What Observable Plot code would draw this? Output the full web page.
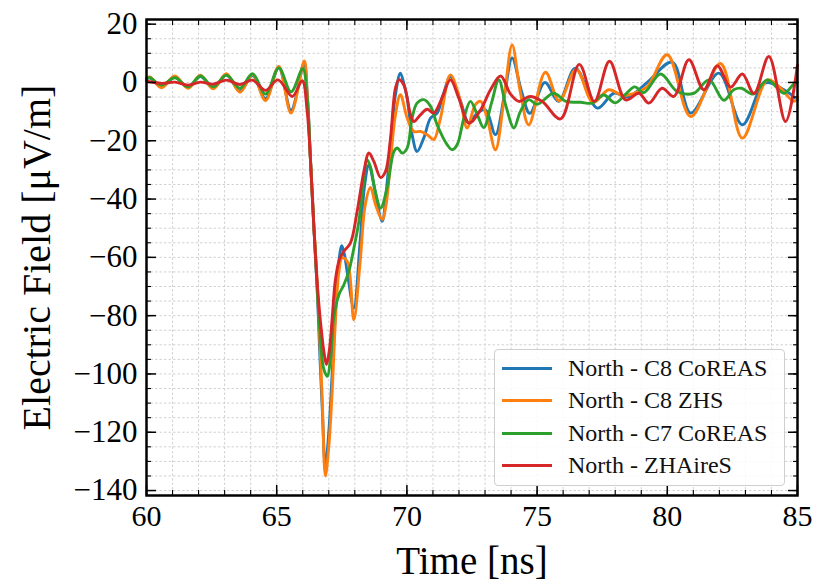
<!DOCTYPE html>
<html>
<head>
<meta charset="utf-8">
<script src="https://cdn.jsdelivr.net/npm/d3@7"></script>
<script src="https://cdn.jsdelivr.net/npm/@observablehq/plot@0.6"></script>
<style>
  body { margin: 0; background: #fff; }
  #wrap { position: relative; width: 816px; height: 586px; font-family: "Liberation Serif", serif; }
  #legend { position: absolute; left: 494px; top: 349px; width: 291px; height: 137px;
    border: 1.5px solid #cfcfcf; border-radius: 4px; background: rgba(255,255,255,0.85); box-sizing: border-box; }
  .row { position: absolute; left: 0; height: 32px; display: flex; align-items: center; }
  .swatch { width: 50px; height: 0; border-top: 3px solid; margin-left: 7px; margin-right: 16px; }
  .lab { font-size: 24px; color: #111; white-space: nowrap; }
</style>
</head>
<body>
<div id="wrap"></div>
<script>
// ---- Data ----
const seriesNames = ["North - C8 CoREAS", "North - C8 ZHS", "North - C7 CoREAS", "North - ZHAireS"];
const seriesColors = ["#1f77b4", "#ff7f0e", "#2ca02c", "#d62728"];

const c8CoreasT = [60.0, 60.13, 60.58, 61.09, 61.6, 62.07, 62.56, 63.07, 63.59, 64.07, 64.57, 65.08, 65.55, 66.05, 66.17, 66.3, 66.43, 66.55, 66.65, 66.75, 66.87, 67.0, 67.13, 67.26, 67.38, 67.5, 67.6, 67.71, 67.96, 68.2, 68.38, 68.54, 68.75, 69.05, 69.2, 69.37, 69.56, 69.75, 69.9, 70.01, 70.2, 70.39, 70.65, 70.91, 71.16, 71.4, 71.67, 72.06, 72.38, 72.7, 73.02, 73.4, 73.75, 74.04, 74.4, 74.72, 75.3, 75.83, 76.47, 77.31, 77.95, 78.5, 79.23, 80.19, 80.9, 81.98, 82.88, 83.75, 84.48, 85.0];
const c8CoreasE = [1.2, 1.6, -1.5, 1.8, -1.7, 2.0, -1.8, 2.5, -3.0, 2.4, -5.5, 5.0, -9.5, 6.5, -3.5, -27, -50, -70, -92, -112, -132, -120, -100, -78, -62, -56, -59, -65, -77.4, -55, -35, -28.2, -36, -47.6, -38, -21.4, -4.2, 3.2, -1, -5.3, -17.9, -23.7, -19, -12.2, -10.5, -4, 2, -6.5, -13.9, -10.5, -9.4, -17.9, -4, 8.4, -3, -10.6, 0, -6.5, 4.9, -8.8, -3.7, -5, 0, 7, -10.5, 3.2, -14.5, -0.2, -2.5, -6];

const c8ZhsT = [60.0, 60.13, 60.58, 61.09, 61.6, 62.07, 62.56, 63.07, 63.59, 64.07, 64.57, 65.08, 65.55, 66.06, 66.17, 66.3, 66.43, 66.49, 66.62, 66.75, 66.87, 67.0, 67.13, 67.26, 67.39, 67.51, 67.71, 67.96, 68.2, 68.4, 68.6, 68.8, 69.05, 69.2, 69.37, 69.56, 69.75, 70.01, 70.27, 70.52, 70.78, 71.03, 71.29, 71.67, 72.06, 72.31, 72.63, 72.83, 73.08, 73.4, 73.72, 74.04, 74.35, 74.68, 75.32, 75.85, 76.5, 77.15, 77.75, 78.3, 78.72, 79.23, 80.0, 80.9, 82.04, 82.88, 83.84, 84.3, 84.86, 85.0];
const c8ZhsE = [1.5, 1.9, -1.8, 2.2, -2.0, 2.5, -2.2, 3.0, -3.4, 2.7, -6.2, 5.5, -10.5, 7.4, -4.2, -27.1, -49.9, -58, -80.8, -109.3, -135, -125, -105.9, -80.8, -64.8, -60.2, -61.4, -81.4, -62, -42, -36, -42, -47, -42, -27.1, -11.1, -4.2, -12.2, -16.8, -16.8, -17.9, -19.6, -12.2, 2.6, -6.5, -15.6, -7.6, -6.5, -12.2, -23.1, -6.5, 12.9, -3, -14.5, 3.5, -6.3, 4.5, -6.8, -2.5, -4.5, -3.7, -1.4, 9.5, -11.7, 6.5, -19.1, 0.9, -1.5, -6.5, -5];

const c7CoreasT = [60.0, 60.13, 60.58, 61.09, 61.6, 62.07, 62.56, 63.07, 63.59, 64.07, 64.57, 65.08, 65.55, 66.0, 66.17, 66.3, 66.43, 66.55, 66.68, 66.8, 66.94, 67.09, 67.19, 67.39, 67.58, 67.77, 67.94, 68.15, 68.3, 68.47, 68.6, 68.8, 68.99, 69.24, 69.5, 69.63, 69.82, 70.01, 70.2, 70.39, 70.65, 70.91, 71.16, 71.55, 71.74, 71.93, 72.19, 72.44, 72.7, 72.95, 73.25, 73.53, 73.8, 74.11, 74.36, 74.68, 75.0, 75.64, 76.1, 76.67, 77.11, 77.56, 78.0, 78.4, 78.75, 79.1, 79.74, 80.38, 81.02, 81.6, 82.17, 82.55, 82.85, 83.3, 83.84, 84.48, 84.86, 85.0];
const c7CoreasE = [1.4, 1.6, -0.9, 1.6, -1.5, 2.2, -1.5, 2.5, -2.0, 3.0, -4.0, 5.0, -3.2, 4.7, -5, -27, -50, -70, -88, -98, -100.8, -92.2, -80.8, -72.8, -69.4, -64.8, -57.9, -48, -37, -26.5, -29, -38, -43.1, -36.2, -23.7, -22.5, -24.2, -22.5, -12.2, -7.1, -5.9, -8.2, -14.5, -21.4, -23.1, -21.4, -12.2, -6.5, -11, -15.5, -7, 0.9, -8, -15.6, -9.9, -5.9, -7.5, -3.7, -6.5, -6.8, -7.1, -4.3, -7, -4, -1.5, -3.5, 2.9, -3.1, -3.7, 0.9, -6.1, -2.5, -2, -4, 0.9, -3.7, -0.5, 0];

const zhairesT = [60.0, 60.58, 61.09, 61.6, 62.07, 62.56, 63.07, 63.59, 64.07, 64.57, 65.05, 65.6, 65.98, 66.17, 66.3, 66.43, 66.55, 66.68, 66.81, 66.91, 67.02, 67.13, 67.25, 67.4, 67.58, 67.83, 68.09, 68.35, 68.54, 68.73, 68.99, 69.18, 69.37, 69.56, 69.69, 69.88, 70.14, 70.27, 70.52, 70.78, 71.03, 71.35, 71.67, 71.99, 72.38, 72.83, 73.21, 73.6, 73.98, 74.3, 74.72, 75.2, 75.9, 76.62, 77.2, 77.78, 78.4, 78.91, 79.29, 79.8, 80.25, 80.83, 81.4, 81.92, 82.43, 82.88, 83.33, 83.9, 84.54, 85.0];
const zhairesE = [0.4, -0.3, 0.1, -0.9, 0.1, -0.6, 0.8, -0.7, 0.8, -2.7, 0.9, -4.8, 0.6, -9.9, -27.1, -49.9, -68, -82, -92.2, -96.8, -92, -81, -68, -61, -57.9, -55.1, -44.2, -30.5, -24.2, -27.1, -32.6, -30.5, -19.1, -1.9, 0.9, -0.8, -11.1, -13.4, -11.1, -9.2, -10.5, -5.3, 0.9, -5.3, -13.9, -9.4, -2.5, 2.2, -4, -6.5, -4.8, -6.5, -12.5, 6.2, -6.5, 7.3, -6, -3.7, -7.1, -2, -4.8, 7.8, -2.5, 5.7, -1.6, 2.9, -3.8, 8.9, -13.4, 6];

const xMajor = [60, 65, 70, 75, 80, 85];
const xMinor = d3.range(60, 86, 1);
const yMajor = [-140, -120, -100, -80, -60, -40, -20, 0, 20];
const yMinor = d3.range(-140, 21, 5);
const xLabel = "Time [ns]";
const yLabel = "Electric Field [μV/m]";

// ---- Table ----
const seriesT = [c8CoreasT, c8ZhsT, c7CoreasT, zhairesT];
const seriesE = [c8CoreasE, c8ZhsE, c7CoreasE, zhairesE];
const tables = seriesNames.map((name, k) => seriesT[k].map((t, i) => ({t, e: seriesE[k][i], series: name})));

const font = '"Liberation Serif", "Times New Roman", serif';
const gridStyle = {stroke: "#cdcdcd", strokeWidth: 0.9, strokeDasharray: "2.5,2", strokeOpacity: 1};
const blank = () => "";

const plot = Plot.plot({
  width: 816,
  height: 586,
  marginLeft: 146,
  marginRight: 19,
  marginTop: 19,
  marginBottom: 91,
  style: {fontFamily: font, background: "white", color: "black", overflow: "visible"},
  x: {domain: [60, 85]},
  y: {domain: [-141.7, 21.6]},
  color: {domain: seriesNames, range: seriesColors},
  marks: [
    Plot.gridX(xMinor, gridStyle),
    Plot.gridY(yMinor, gridStyle),
    ...tables.map(rows => Plot.line(rows, {x: "t", y: "e", stroke: "series", strokeWidth: 2.9, curve: "catmull-rom"})),
    // tick labels
    Plot.axisX(xMajor, {anchor: "bottom", tickSize: 0, tickPadding: 9, fontSize: 30, label: null}),
    Plot.axisY(yMajor, {anchor: "left", tickSize: 0, tickPadding: 9, fontSize: 31, label: null}),
    // inward ticks, all four sides
    ...["bottom", "top"].flatMap(a => [
      Plot.axisX(xMajor, {anchor: a, tickSize: -10, strokeWidth: 1.5, tickFormat: blank, label: null}),
      Plot.axisX(xMinor, {anchor: a, tickSize: -5, strokeWidth: 1.1, tickFormat: blank, label: null})
    ]),
    ...["left", "right"].flatMap(a => [
      Plot.axisY(yMajor, {anchor: a, tickSize: -10, strokeWidth: 1.5, tickFormat: blank, label: null}),
      Plot.axisY(yMinor, {anchor: a, tickSize: -5, strokeWidth: 1.1, tickFormat: blank, label: null})
    ]),
    Plot.frame({stroke: "black", strokeWidth: 2.5}),
    Plot.text([xLabel], {frameAnchor: "bottom", dy: 66, lineAnchor: "middle", textAnchor: "middle", fontSize: 39, fill: "black"}),
    Plot.text([yLabel], {frameAnchor: "left", dx: -109, rotate: -90, lineAnchor: "middle", textAnchor: "middle", fontSize: 40, fill: "black"})
  ]
});

const wrap = document.getElementById("wrap");
wrap.appendChild(plot);

// legend (built from the same names/colors)
const legend = document.createElement("div");
legend.id = "legend";
seriesNames.forEach((name, i) => {
  const row = document.createElement("div");
  row.className = "row";
  row.style.top = (2 + i * 32.5) + "px";
  const sw = document.createElement("div");
  sw.className = "swatch";
  sw.style.borderTopColor = seriesColors[i];
  const lab = document.createElement("span");
  lab.className = "lab";
  lab.textContent = name;
  row.appendChild(sw);
  row.appendChild(lab);
  legend.appendChild(row);
});
wrap.appendChild(legend);
</script>
</body>
</html>
